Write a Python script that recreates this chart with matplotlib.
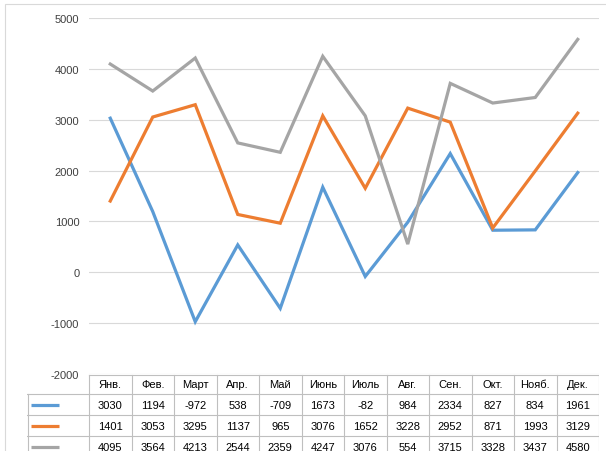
import matplotlib.pyplot as plt
from matplotlib.patches import Rectangle

plt.rcParams['font.family'] = ['Liberation Sans', 'DejaVu Sans']
plt.rcParams['axes.unicode_minus'] = False

# данные
months = ['Янв.', 'Фев.', 'Март', 'Апр.', 'Май', 'Июнь', 'Июль', 'Авг.', 'Сен.', 'Окт.', 'Нояб.', 'Дек.']
series1 = [3030, 1194, -972, 538, -709, 1673, -82, 984, 2334, 827, 834, 1961]
series2 = [1401, 3053, 3295, 1137, 965, 3076, 1652, 3228, 2952, 871, 1993, 3129]
series3 = [4095, 3564, 4213, 2544, 2359, 4247, 3076, 554, 3715, 3328, 3437, 4580]
colors = ['#5B9BD5', '#ED7D31', '#A5A5A5']

W, H = 606, 452
fig = plt.figure(figsize=(W / 100, H / 100), dpi=100)


def px_rect(x0, y0, x1, y1):
    # пиксели (сверху вниз) -> доли фигуры
    return [x0 / W, 1 - y1 / H, (x1 - x0) / W, (y1 - y0) / H]


# рамка диаграммы
fig.patches.append(Rectangle((4.5 / W, -0.1), 1.2, 1 - 4.5 / H + 0.1,
                             transform=fig.transFigure, fill=False,
                             edgecolor='#d9d9d9', linewidth=0.8))

# график
x0, x1 = 89, 599
ax = fig.add_axes(px_rect(x0, 19, x1, 375))
n = len(months)
xs = list(range(n))
for vals, c in zip([series1, series2, series3], colors):
    ax.plot(xs, vals, color=c, linewidth=2.3, solid_joinstyle='miter', zorder=3)
ax.set_xlim(-0.5, n - 0.5)
ax.set_ylim(-2000, 5000)
ax.set_yticks(range(-2000, 5001, 1000))
ax.yaxis.grid(True, color='#d9d9d9', linewidth=0.8)
ax.set_axisbelow(True)
ax.set_xticks([])
for s in ax.spines.values():
    s.set_visible(False)
ax.tick_params(axis='y', length=0, pad=7, labelsize=8, labelcolor='#404040')

# таблица данных
col_w = (x1 - x0) / n
leg_x = 27
tab = fig.add_axes(px_rect(leg_x, 375, x1, 452))
tab.set_xlim(-0.5 - (x0 - leg_x) / col_w, n - 0.5)
tab.set_ylim(77, 0)
tab.axis('off')
rows_y = [0, 20, 41, 62, 83]
lc = '#bfbfbf'
lx = -0.5 - (x0 - leg_x) / col_w
tab.plot([-0.5, n - 0.5], [0.5, 0.5], color=lc, lw=0.8)
for y in rows_y[1:]:
    tab.plot([lx, n - 0.5], [y, y], color=lc, lw=0.8)
for i in range(n + 1):
    tab.plot([i - 0.5, i - 0.5], [0.5, 83], color=lc, lw=0.8)
tab.plot([lx + 0.02, lx + 0.02], [rows_y[1], 83], color=lc, lw=0.8)

for i, m in enumerate(months):
    tab.text(i, (rows_y[0] + rows_y[1]) / 2 + 0.5, m, ha='center', va='center',
             fontsize=8, color='#000000')
for r, (vals, c) in enumerate(zip([series1, series2, series3], colors)):
    yc = (rows_y[r + 1] + rows_y[r + 2]) / 2
    tab.plot([lx + 0.1, lx + 0.75], [yc, yc], color=c, lw=2.3, solid_capstyle='butt')
    for i, v in enumerate(vals):
        tab.text(i, yc + 0.5, str(v), ha='center', va='center', fontsize=8, color='#000000')

fig.savefig('out.png', dpi=100)
